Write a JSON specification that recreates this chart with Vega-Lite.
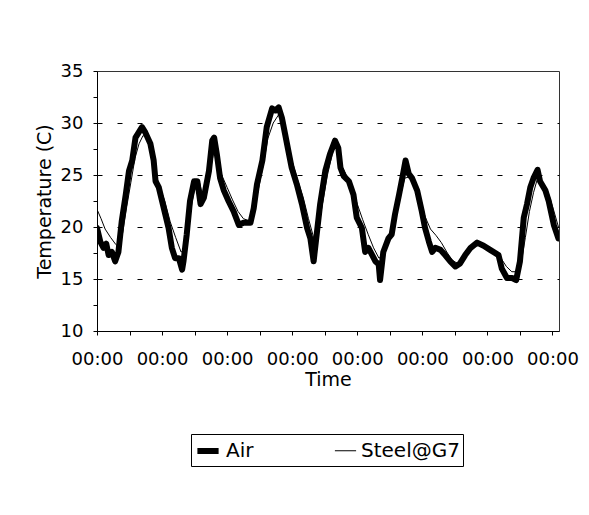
{
  "$schema": "https://vega.github.io/schema/vega-lite/v6.json",
  "width": 462,
  "height": 260,
  "autosize": "none",
  "padding": {"left": 97, "top": 71, "right": 30, "bottom": 184},
  "background": "white",
  "config": {
    "font": "DejaVu Sans",
    "view": {"stroke": "#333", "strokeWidth": 1},
    "axis": {"labelColor": "black", "titleColor": "black", "domainColor": "black", "tickColor": "black", "titleFontWeight": "normal", "labelFontSize": 18, "titleFontSize": 19}
  },
  "data": {
    "values": [
      {"h": 0, "T": 19.9, "s": "Air"}, {"h": 1.2, "T": 18.6, "s": "Air"}, {"h": 2.4, "T": 18.0, "s": "Air"}, {"h": 3.4, "T": 18.4, "s": "Air"}, {"h": 4.3, "T": 17.3, "s": "Air"}, {"h": 5.5, "T": 17.6, "s": "Air"}, {"h": 6.7, "T": 16.7, "s": "Air"}, {"h": 7.9, "T": 17.6, "s": "Air"}, {"h": 9.1, "T": 20.5, "s": "Air"}, {"h": 10.6, "T": 23.1, "s": "Air"}, {"h": 11.8, "T": 25.4, "s": "Air"}, {"h": 13.0, "T": 26.4, "s": "Air"}, {"h": 14.2, "T": 28.6, "s": "Air"}, {"h": 15.4, "T": 29.1, "s": "Air"}, {"h": 16.6, "T": 29.6, "s": "Air"}, {"h": 17.8, "T": 29.1, "s": "Air"}, {"h": 19.7, "T": 28.0, "s": "Air"}, {"h": 20.9, "T": 26.4, "s": "Air"}, {"h": 21.6, "T": 24.4, "s": "Air"}, {"h": 22.8, "T": 23.8, "s": "Air"}, {"h": 24.0, "T": 22.5, "s": "Air"}, {"h": 25.2, "T": 21.2, "s": "Air"}, {"h": 26.4, "T": 19.9, "s": "Air"}, {"h": 27.6, "T": 18.0, "s": "Air"}, {"h": 28.8, "T": 17.0, "s": "Air"}, {"h": 30.2, "T": 17.0, "s": "Air"}, {"h": 31.4, "T": 15.9, "s": "Air"}, {"h": 31.9, "T": 16.7, "s": "Air"}, {"h": 33.1, "T": 19.3, "s": "Air"}, {"h": 34.3, "T": 22.5, "s": "Air"}, {"h": 35.8, "T": 24.4, "s": "Air"}, {"h": 37.0, "T": 24.4, "s": "Air"}, {"h": 38.2, "T": 22.2, "s": "Air"}, {"h": 39.4, "T": 22.8, "s": "Air"}, {"h": 41.3, "T": 25.4, "s": "Air"}, {"h": 42.5, "T": 28.3, "s": "Air"}, {"h": 43.2, "T": 28.6, "s": "Air"}, {"h": 44.2, "T": 27.0, "s": "Air"}, {"h": 45.4, "T": 24.7, "s": "Air"}, {"h": 46.8, "T": 23.5, "s": "Air"}, {"h": 48.5, "T": 22.5, "s": "Air"}, {"h": 50.4, "T": 21.5, "s": "Air"}, {"h": 52.3, "T": 20.2, "s": "Air"}, {"h": 54.0, "T": 20.4, "s": "Air"}, {"h": 56.6, "T": 20.4, "s": "Air"}, {"h": 57.8, "T": 21.8, "s": "Air"}, {"h": 59.0, "T": 24.1, "s": "Air"}, {"h": 61.0, "T": 26.4, "s": "Air"}, {"h": 62.6, "T": 29.6, "s": "Air"}, {"h": 64.6, "T": 31.4, "s": "Air"}, {"h": 65.8, "T": 31.2, "s": "Air"}, {"h": 67.0, "T": 31.5, "s": "Air"}, {"h": 68.2, "T": 30.5, "s": "Air"}, {"h": 69.4, "T": 28.9, "s": "Air"}, {"h": 70.6, "T": 27.3, "s": "Air"}, {"h": 71.8, "T": 25.7, "s": "Air"}, {"h": 73.7, "T": 24.1, "s": "Air"}, {"h": 75.6, "T": 22.2, "s": "Air"}, {"h": 77.5, "T": 19.9, "s": "Air"}, {"h": 78.7, "T": 18.9, "s": "Air"}, {"h": 79.9, "T": 16.7, "s": "Air"}, {"h": 80.6, "T": 18.3, "s": "Air"}, {"h": 82.3, "T": 22.2, "s": "Air"}, {"h": 84.2, "T": 25.4, "s": "Air"}, {"h": 85.9, "T": 27.0, "s": "Air"}, {"h": 87.8, "T": 28.3, "s": "Air"}, {"h": 89.0, "T": 27.6, "s": "Air"}, {"h": 89.8, "T": 25.7, "s": "Air"}, {"h": 91.0, "T": 24.9, "s": "Air"}, {"h": 92.9, "T": 24.4, "s": "Air"}, {"h": 94.6, "T": 23.1, "s": "Air"}, {"h": 95.8, "T": 20.9, "s": "Air"}, {"h": 97.7, "T": 19.9, "s": "Air"}, {"h": 98.9, "T": 17.6, "s": "Air"}, {"h": 100.1, "T": 18.0, "s": "Air"}, {"h": 102.7, "T": 16.7, "s": "Air"}, {"h": 103.9, "T": 16.4, "s": "Air"}, {"h": 104.4, "T": 14.9, "s": "Air"}, {"h": 105.6, "T": 17.6, "s": "Air"}, {"h": 107.5, "T": 18.9, "s": "Air"}, {"h": 108.7, "T": 19.3, "s": "Air"}, {"h": 109.9, "T": 21.2, "s": "Air"}, {"h": 111.4, "T": 23.1, "s": "Air"}, {"h": 112.6, "T": 24.7, "s": "Air"}, {"h": 113.8, "T": 26.4, "s": "Air"}, {"h": 115.0, "T": 25.1, "s": "Air"}, {"h": 116.2, "T": 24.7, "s": "Air"}, {"h": 118.1, "T": 23.5, "s": "Air"}, {"h": 119.8, "T": 21.5, "s": "Air"}, {"h": 121.0, "T": 19.9, "s": "Air"}, {"h": 122.4, "T": 18.6, "s": "Air"}, {"h": 123.6, "T": 17.6, "s": "Air"}, {"h": 124.8, "T": 18.0, "s": "Air"}, {"h": 126.7, "T": 17.8, "s": "Air"}, {"h": 128.4, "T": 17.3, "s": "Air"}, {"h": 130.3, "T": 16.7, "s": "Air"}, {"h": 132.2, "T": 16.2, "s": "Air"}, {"h": 133.9, "T": 16.5, "s": "Air"}, {"h": 135.8, "T": 17.3, "s": "Air"}, {"h": 137.8, "T": 18.0, "s": "Air"}, {"h": 140.2, "T": 18.5, "s": "Air"}, {"h": 142.6, "T": 18.2, "s": "Air"}, {"h": 145.0, "T": 17.8, "s": "Air"}, {"h": 148.1, "T": 17.3, "s": "Air"}, {"h": 149.3, "T": 16.0, "s": "Air"}, {"h": 151.2, "T": 15.1, "s": "Air"}, {"h": 153.1, "T": 15.1, "s": "Air"}, {"h": 154.6, "T": 14.9, "s": "Air"}, {"h": 156.0, "T": 16.7, "s": "Air"}, {"h": 157.4, "T": 20.9, "s": "Air"}, {"h": 158.6, "T": 22.2, "s": "Air"}, {"h": 159.8, "T": 23.8, "s": "Air"}, {"h": 161.0, "T": 24.7, "s": "Air"}, {"h": 162.5, "T": 25.5, "s": "Air"}, {"h": 163.4, "T": 24.4, "s": "Air"}, {"h": 165.4, "T": 23.5, "s": "Air"}, {"h": 166.6, "T": 22.5, "s": "Air"}, {"h": 168.5, "T": 20.2, "s": "Air"}, {"h": 170.2, "T": 18.9, "s": "Air"},
      {"h": 0, "T": 21.7, "s": "Steel@G7"}, {"h": 1.5, "T": 20.8, "s": "Steel@G7"}, {"h": 3, "T": 19.8, "s": "Steel@G7"}, {"h": 5, "T": 19.0, "s": "Steel@G7"}, {"h": 7, "T": 18.3, "s": "Steel@G7"}, {"h": 8.2, "T": 18.0, "s": "Steel@G7"}, {"h": 9.5, "T": 19.5, "s": "Steel@G7"}, {"h": 11, "T": 22.0, "s": "Steel@G7"}, {"h": 12.5, "T": 24.3, "s": "Steel@G7"}, {"h": 14, "T": 26.6, "s": "Steel@G7"}, {"h": 15.5, "T": 28.0, "s": "Steel@G7"}, {"h": 17, "T": 28.8, "s": "Steel@G7"}, {"h": 18, "T": 28.6, "s": "Steel@G7"}, {"h": 19.5, "T": 27.8, "s": "Steel@G7"}, {"h": 21, "T": 25.6, "s": "Steel@G7"}, {"h": 23, "T": 24.0, "s": "Steel@G7"}, {"h": 25, "T": 22.5, "s": "Steel@G7"}, {"h": 27, "T": 20.5, "s": "Steel@G7"}, {"h": 29, "T": 19.0, "s": "Steel@G7"}, {"h": 31, "T": 17.6, "s": "Steel@G7"}, {"h": 32, "T": 17.7, "s": "Steel@G7"}, {"h": 33.5, "T": 19.5, "s": "Steel@G7"}, {"h": 35, "T": 22.3, "s": "Steel@G7"}, {"h": 36.5, "T": 24.4, "s": "Steel@G7"}, {"h": 37.5, "T": 24.6, "s": "Steel@G7"}, {"h": 38.7, "T": 23.3, "s": "Steel@G7"}, {"h": 40, "T": 23.5, "s": "Steel@G7"}, {"h": 41.8, "T": 25.5, "s": "Steel@G7"}, {"h": 43.5, "T": 27.8, "s": "Steel@G7"}, {"h": 44.5, "T": 27.3, "s": "Steel@G7"}, {"h": 46, "T": 25.0, "s": "Steel@G7"}, {"h": 48, "T": 23.8, "s": "Steel@G7"}, {"h": 50, "T": 22.6, "s": "Steel@G7"}, {"h": 52, "T": 21.5, "s": "Steel@G7"}, {"h": 54, "T": 20.8, "s": "Steel@G7"}, {"h": 56, "T": 20.6, "s": "Steel@G7"}, {"h": 57.5, "T": 21.0, "s": "Steel@G7"}, {"h": 59.5, "T": 23.6, "s": "Steel@G7"}, {"h": 61.5, "T": 26.2, "s": "Steel@G7"}, {"h": 63, "T": 28.5, "s": "Steel@G7"}, {"h": 65, "T": 30.0, "s": "Steel@G7"}, {"h": 67, "T": 30.8, "s": "Steel@G7"}, {"h": 68.5, "T": 30.5, "s": "Steel@G7"}, {"h": 70, "T": 28.5, "s": "Steel@G7"}, {"h": 72, "T": 26.3, "s": "Steel@G7"}, {"h": 74, "T": 24.5, "s": "Steel@G7"}, {"h": 76, "T": 22.9, "s": "Steel@G7"}, {"h": 78, "T": 20.8, "s": "Steel@G7"}, {"h": 80, "T": 18.9, "s": "Steel@G7"}, {"h": 81.5, "T": 19.5, "s": "Steel@G7"}, {"h": 83, "T": 22.0, "s": "Steel@G7"}, {"h": 85, "T": 25.0, "s": "Steel@G7"}, {"h": 87, "T": 27.3, "s": "Steel@G7"}, {"h": 88.5, "T": 27.8, "s": "Steel@G7"}, {"h": 90, "T": 26.0, "s": "Steel@G7"}, {"h": 92, "T": 25.0, "s": "Steel@G7"}, {"h": 94, "T": 24.0, "s": "Steel@G7"}, {"h": 96, "T": 22.2, "s": "Steel@G7"}, {"h": 98, "T": 20.7, "s": "Steel@G7"}, {"h": 100, "T": 19.3, "s": "Steel@G7"}, {"h": 102, "T": 18.0, "s": "Steel@G7"}, {"h": 104, "T": 17.0, "s": "Steel@G7"}, {"h": 105.5, "T": 17.3, "s": "Steel@G7"}, {"h": 107.5, "T": 18.8, "s": "Steel@G7"}, {"h": 109.5, "T": 20.6, "s": "Steel@G7"}, {"h": 111.5, "T": 22.6, "s": "Steel@G7"}, {"h": 113.5, "T": 24.7, "s": "Steel@G7"}, {"h": 115, "T": 24.8, "s": "Steel@G7"}, {"h": 117, "T": 24.3, "s": "Steel@G7"}, {"h": 119, "T": 22.8, "s": "Steel@G7"}, {"h": 121, "T": 21.0, "s": "Steel@G7"}, {"h": 123, "T": 19.8, "s": "Steel@G7"}, {"h": 125, "T": 19.2, "s": "Steel@G7"}, {"h": 127, "T": 18.5, "s": "Steel@G7"}, {"h": 129, "T": 17.6, "s": "Steel@G7"}, {"h": 131, "T": 16.8, "s": "Steel@G7"}, {"h": 133, "T": 16.5, "s": "Steel@G7"}, {"h": 135, "T": 17.0, "s": "Steel@G7"}, {"h": 137, "T": 17.8, "s": "Steel@G7"}, {"h": 139.5, "T": 18.4, "s": "Steel@G7"}, {"h": 142, "T": 18.4, "s": "Steel@G7"}, {"h": 144.5, "T": 18.0, "s": "Steel@G7"}, {"h": 147, "T": 17.6, "s": "Steel@G7"}, {"h": 149, "T": 17.0, "s": "Steel@G7"}, {"h": 151, "T": 16.2, "s": "Steel@G7"}, {"h": 153, "T": 15.7, "s": "Steel@G7"}, {"h": 155, "T": 15.7, "s": "Steel@G7"}, {"h": 156.5, "T": 16.6, "s": "Steel@G7"}, {"h": 158, "T": 19.0, "s": "Steel@G7"}, {"h": 159.5, "T": 21.5, "s": "Steel@G7"}, {"h": 161, "T": 23.3, "s": "Steel@G7"}, {"h": 162.5, "T": 24.7, "s": "Steel@G7"}, {"h": 164, "T": 24.4, "s": "Steel@G7"}, {"h": 166, "T": 23.6, "s": "Steel@G7"}, {"h": 168, "T": 22.0, "s": "Steel@G7"}, {"h": 170.2, "T": 20.0, "s": "Steel@G7"}
    ]
  },
  "mark": {"type": "line", "color": "black", "strokeJoin": "round", "strokeCap": "round", "clip": true},
  "encoding": {
    "x": {
      "field": "h", "type": "quantitative", "title": "Time",
      "scale": {"domain": [0, 170.4], "nice": false, "zero": false},
      "axis": {
        "values": [0, 12, 24, 36, 48, 60, 72, 84, 96, 108, 120, 132, 144, 156, 168],
        "labelExpr": "datum.value % 24 == 0 ? '00:00' : ''",
        "labelOverlap": false, "labelFlush": false, "grid": false,
        "tickSize": 4, "labelPadding": 15, "titlePadding": 2
      }
    },
    "y": {
      "field": "T", "type": "quantitative", "title": "Temperature (C)",
      "scale": {"domain": [10, 35], "nice": false, "zero": false},
      "axis": {
        "values": [10, 12.5, 15, 17.5, 20, 22.5, 25, 27.5, 30, 32.5, 35],
        "labelExpr": "datum.value % 5 == 0 ? datum.label : ''",
        "labelOverlap": false, "labelFlush": false,
        "grid": true, "gridColor": "black", "gridDash": [5, 15],
        "gridOpacity": {"condition": {"test": "datum.value % 5 == 0 && datum.value > 10 && datum.value < 35", "value": 1}, "value": 0},
        "tickSize": 4, "labelPadding": 10, "titlePadding": 6
      }
    },
    "strokeWidth": {
      "field": "s", "type": "nominal",
      "scale": {"domain": ["Air", "Steel@G7"], "range": [6, 1]},
      "legend": {
        "title": null, "orient": "none", "direction": "horizontal",
        "legendX": 94, "legendY": 363,
        "symbolType": "stroke", "symbolStrokeColor": "black", "symbolSize": 450,
        "labelFontSize": 20, "labelColor": "black", "labelOffset": 4,
        "columnPadding": 78, "padding": 3,
        "strokeColor": "black", "fillColor": "white"
      }
    },
    "order": {"field": "h", "type": "quantitative"}
  }
}
